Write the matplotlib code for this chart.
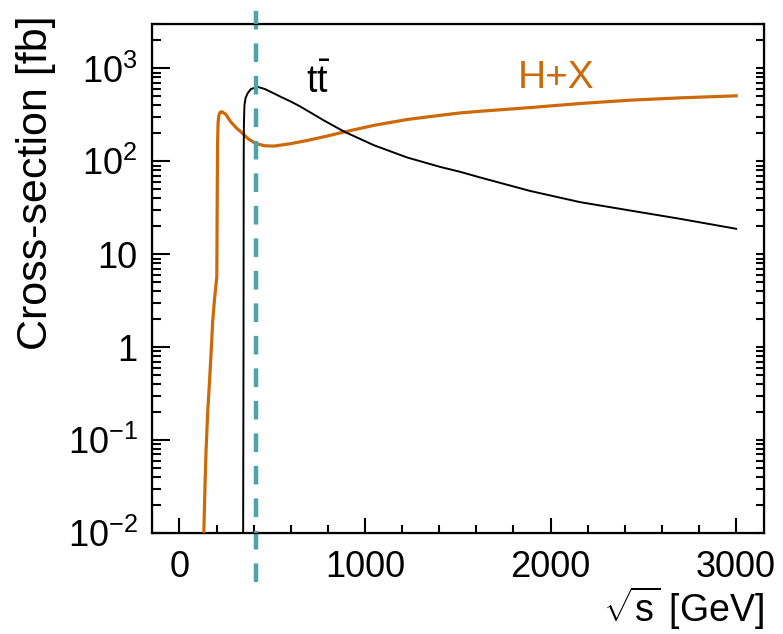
import numpy as np
import matplotlib
matplotlib.use('Agg')
import matplotlib.pyplot as plt
from matplotlib.ticker import FixedLocator, FixedFormatter, LogLocator, NullFormatter

plt.rcParams['font.family'] = ['Liberation Sans', 'DejaVu Sans']
plt.rcParams['mathtext.fontset'] = 'custom'
plt.rcParams['mathtext.rm'] = 'Liberation Sans'
plt.rcParams['mathtext.it'] = 'Liberation Sans:italic'
plt.rcParams['lines.scale_dashes'] = False

# ttbar cross-section
tt_x = [343, 345, 346, 347, 350, 356, 367, 385, 421, 460, 510, 550, 600, 650, 690,
        779, 887, 1048, 1227, 1406, 1514, 1621, 1890, 2158, 2427, 2696, 3000]
tt_y = [0.01, 1.0, 100, 250, 400, 480, 540, 600, 634, 600, 537, 490, 440, 390, 350,
        275, 209, 149, 110, 87, 77, 67, 48, 36.4, 29.6, 24.1, 18.8]

# H+X cross-section
hx_x = [131, 137, 143, 152, 161, 172, 179, 188, 198, 201, 203, 205, 208, 212, 218,
        226, 233, 250, 277, 310, 332, 370, 412, 460, 510, 600, 690, 790, 887, 1048,
        1227, 1406, 1514, 1621, 1890, 2158, 2427, 2696, 3000]
hx_y = [0.01, 0.03, 0.076, 0.2, 0.40, 1.0, 1.92, 3.16, 5.0, 5.65, 30, 150, 260, 310, 335,
        342, 338, 320, 265, 225, 207, 175, 155, 147, 146, 155, 168, 186, 207, 244,
        282, 313, 332, 346, 379, 419, 455, 482, 507]

sqrt_s_ref = 412

ytick_vals = [1e-2, 1e-1, 1, 10, 1e2, 1e3]
ytick_labels = ['$10^{-2}$', '$10^{-1}$', '1', '10', '$10^{2}$', '$10^{3}$']
xtick_vals = [0, 1000, 2000, 3000]

orange = '#cc6a0a'
teal = '#4ea3a8'

fig = plt.figure(figsize=(7.83, 6.34), dpi=100)
ax = fig.add_axes([0.1937, 0.1593, 0.782, 0.8027])

ax.plot(hx_x, hx_y, color=orange, lw=2.3, zorder=3)
ax.plot(tt_x, tt_y, color='black', lw=1.4, zorder=3)
ax.axvline(sqrt_s_ref, ymin=-0.096, ymax=1.031, color=teal, lw=3.2,
           dashes=(13.4, 10), clip_on=False, zorder=4)

ax.set_yscale('log')
ax.set_xlim(-150, 3150)
ax.set_ylim(1e-2, 3000)

ax.xaxis.set_major_locator(FixedLocator(xtick_vals))
ax.xaxis.set_minor_locator(FixedLocator(np.arange(-200, 3200, 200)))
ax.yaxis.set_major_locator(FixedLocator(ytick_vals))
ax.yaxis.set_major_formatter(FixedFormatter(ytick_labels))
ax.yaxis.set_minor_locator(LogLocator(base=10, subs=np.arange(2, 10)))
ax.yaxis.set_minor_formatter(NullFormatter())

ax.tick_params(axis='both', which='both', direction='in', width=1.5, labelsize=26)
ax.tick_params(axis='x', which='major', length=11, pad=12)
ax.tick_params(axis='x', which='minor', length=5.5)
ax.tick_params(axis='y', which='major', length=13, pad=10)
ax.tick_params(axis='y', which='minor', length=6.5)
for sp in ax.spines.values():
    sp.set_linewidth(1.6)

# right-side ticks (shorter)
ax2 = ax.twinx()
ax2.set_yscale('log')
ax2.set_ylim(ax.get_ylim())
ax2.yaxis.set_major_locator(FixedLocator(ytick_vals))
ax2.yaxis.set_minor_locator(LogLocator(base=10, subs=np.arange(2, 10)))
ax2.tick_params(axis='y', which='both', direction='in', length=6, width=1.5,
                labelright=False)

ax.set_ylabel('Cross-section [fb]', fontsize=31, loc='top')
ax.yaxis.set_label_coords(-0.156, 1.018)
ax.set_xlabel(r'$\sqrt{\mathrm{s}}$ [GeV]', fontsize=27, loc='right', labelpad=0)

ax.text(748, 541, r'$\mathrm{t\bar{t}}$', fontsize=27, ha='center', va='baseline')
ax.text(2027, 613, 'H+X', fontsize=28, color=orange, ha='center', va='baseline')

fig.savefig('out.png', dpi=100)
